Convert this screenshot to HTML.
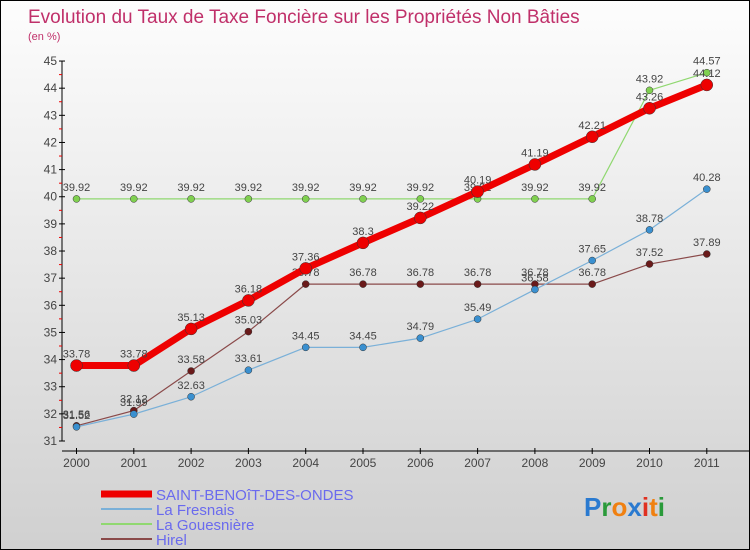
<!DOCTYPE html>
<html><head><meta charset="utf-8"><style>
body{margin:0;}
#wrap{width:748px;height:548px;border:1px solid #000;background:linear-gradient(#fdfdfd,#d0d0d0);position:relative;overflow:hidden;font-family:"Liberation Sans",sans-serif;}
svg{position:absolute;left:0;top:0;}
</style></head><body>
<div id="wrap">
<svg id="c" width="750" height="550">
<text x="27" y="22" font-size="19" fill="#c0306a">Evolution du Taux de Taxe Foncière sur les Propriétés Non Bâties</text>
<text x="27" y="39" font-size="11" fill="#c0306a">(en %)</text>
</svg>
</div>
<script>
const years=["2000","2001","2002","2003","2004","2005","2006","2007","2008","2009","2010","2011"];
const yTicks=[31,32,33,34,35,36,37,38,39,40,41,42,43,44,45];
const saint=[33.78,33.78,35.13,36.18,37.36,38.3,39.22,40.19,41.19,42.21,43.26,44.12];
const fresnais=[31.52,31.99,32.63,33.61,34.45,34.45,34.79,35.49,36.58,37.65,38.78,40.28];
const gouesniere=[39.92,39.92,39.92,39.92,39.92,39.92,39.92,39.92,39.92,39.92,43.92,44.57];
const hirel=[31.56,32.12,33.58,35.03,36.78,36.78,36.78,36.78,36.78,36.78,37.52,37.89];
const NS="http://www.w3.org/2000/svg";
const svg=document.getElementById('c');
const xS=i=>75.5+i*57.3;
const yS=v=>440-(v-31)*27.14;
function mk(t,a,p){const e=document.createElementNS(NS,t);for(const k in a)e.setAttribute(k,a[k]);(p||svg).appendChild(e);return e;}
// axes
const ax=mk('g',{});


mk('line',{x1:61,y1:yS(45),x2:61,y2:yS(31),stroke:'#000','stroke-width':1},ax);
mk('line',{x1:61,y1:450,x2:750,y2:450,stroke:'#000','stroke-width':1},ax);
yTicks.forEach(v=>{
  mk('line',{x1:58,x2:64,y1:yS(v),y2:yS(v),stroke:'#000'},ax);
  if(v<45)mk('line',{x1:58,x2:61,y1:yS(v+0.5),y2:yS(v+0.5),stroke:'#e00'},ax);
  const t=mk('text',{x:56,y:yS(v)+4,'font-size':12,fill:'#444','text-anchor':'end'},ax);
  t.textContent=v;
  
  
});
years.forEach((y,i)=>{
  mk('line',{x1:xS(i),x2:xS(i),y1:447,y2:453,stroke:'#000'},ax);
  const t=mk('text',{x:xS(i),y:466,'font-size':12,fill:'#444','text-anchor':'middle'},ax);
  t.textContent=y;
  
  
});
function series(vals,color,w,r,name,dotFill){
  const g=mk('g',{});
  
  
  mk('polyline',{points:vals.map((v,i)=>xS(i)+','+yS(v)).join(' '),fill:'none',stroke:color,'stroke-width':w,'stroke-linejoin':'round'},g);
  vals.forEach((v,i)=>{
    const c=mk('circle',{cx:xS(i),cy:yS(v),r:r,fill:dotFill,stroke:'#333','stroke-width':0.5},g);
    
    
    const t=mk('text',{x:xS(i),y:yS(v)-8,'font-size':11,fill:'#444','text-anchor':'middle'},g);
    t.textContent=v;
    
    
  });
}
series(gouesniere,'#90d870',1.2,3.5,'series-la-gouesniere','#80d050');
series(hirel,'#8a4a4a',1.2,3.5,'series-hirel','#6a1a1a');
series(fresnais,'#7ab0d8',1.2,3.5,'series-la-fresnais','#3a90d0');
series(saint,'#ee0000',7,6,'series-saint-benoit','#ee0000');
// legend
const lg=mk('g',{});


const leg=[["SAINT-BENOîT-DES-ONDES",'#ee0000',7],["La Fresnais",'#7ab0d8',2],["La Gouesnière",'#90d870',2],["Hirel",'#8a4a4a',2]];
leg.forEach((l,i)=>{
  const y=493+i*15;
  mk('line',{x1:100,x2:151,y1:y,y2:y,stroke:l[1],'stroke-width':l[2]},lg);
  const t=mk('text',{x:155,y:y+6,'font-size':15,fill:'#6a6aee'},lg);
  t.textContent=l[0];
  
  
});
// logo
const lo=mk('text',{x:583,y:515,'font-size':26,'font-weight':'bold'});


[["P","#2a7ad0"],["r","#2a9a3a"],["o","#f08010"],["x","#2a7ad0"],["i","#e03020"],["t","#f08010"],["i","#2a9a3a"]].forEach(p=>{const s=mk('tspan',{fill:p[1]},lo);s.textContent=p[0];});
</script>
</body></html>
